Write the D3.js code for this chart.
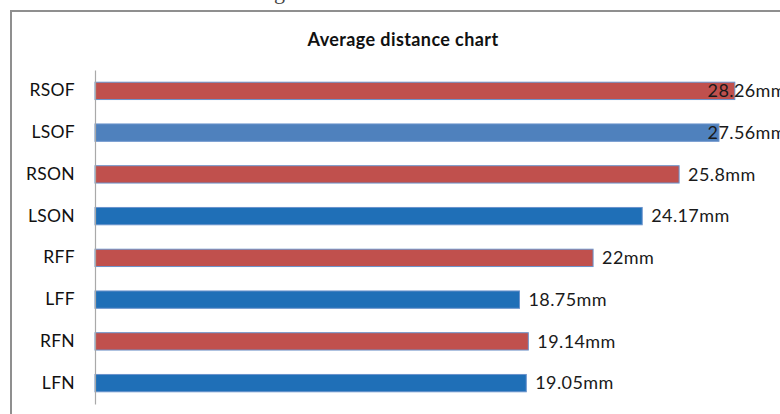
<!DOCTYPE html>
<html>
<head>
<meta charset="utf-8">
<script src="https://cdn.jsdelivr.net/npm/d3@7"></script>
<style>
  html, body { margin: 0; padding: 0; background: #fff; }
  svg { display: block; }
</style>
</head>
<body>
<svg id="chart" width="780" height="414"></svg>
<script>
// Average distance per measurement, top to bottom
const categories = ["RSOF", "LSOF", "RSON", "LSON", "RFF", "LFF", "RFN", "LFN"];
const distances = [28.26, 27.56, 25.8, 24.17, 22, 18.75, 19.14, 19.05];
const valueLabels = ["28.26mm", "27.56mm", "25.8mm", "24.17mm", "22mm", "18.75mm", "19.14mm", "19.05mm"];
const side = ["R", "L", "R", "L", "R", "L", "R", "L"];
const chartTitle = "Average distance chart";

const svg = d3.select("#chart");
const font = "Lato, 'Open Sans', sans-serif";

// outer chart frame (runs off the right and bottom edges)
svg.append("path")
  .attr("d", "M11,420 V11 H790")
  .attr("fill", "none")
  .attr("stroke", "#8f8f8f")
  .attr("stroke-width", 2);

// descender of the heading above the frame
svg.append("text")
  .attr("x", 274).attr("y", -1.5)
  .attr("font-family", "'Liberation Serif', serif")
  .attr("font-size", 22)
  .attr("fill", "#444")
  .text("g");

svg.append("text")
  .attr("x", 403).attr("y", 46)
  .attr("text-anchor", "middle")
  .attr("font-family", font)
  .attr("font-weight", "bold")
  .attr("font-size", 18)
  .attr("letter-spacing", 0.4)
  .attr("fill", "#111")
  .text(chartTitle);

const x = d3.scaleLinear().domain([0, 30]).range([95, 95 + 30 * 22.64]);
const y = d3.scaleBand().domain(categories).range([70, 404])
  .paddingInner(0.585).paddingOuter(0.2925);

const data = categories.map((c, i) => ({ c, v: distances[i], label: valueLabels[i], side: side[i] }));

const fillFor = d => d.side === "R" ? "#C0504D" : (d.c === "LSOF" ? "#4F81BD" : "#1F6FB7");

svg.append("g").selectAll("rect").data(data).join("rect")
  .attr("x", x(0))
  .attr("y", d => y(d.c))
  .attr("width", d => x(d.v) - x(0))
  .attr("height", y.bandwidth())
  .attr("fill", fillFor)
  .attr("stroke", "#6A93CC")
  .attr("stroke-width", 1);

// category axis
const axis = svg.append("g")
  .attr("transform", `translate(${x(0)},0)`)
  .call(d3.axisLeft(y).tickSize(0).tickPadding(20));
axis.select(".domain").attr("stroke", "#a9a9a9").attr("stroke-width", 1.2);
axis.selectAll("text")
  .attr("font-family", font)
  .attr("font-size", 17.5)
  .attr("letter-spacing", 0.3)
  .attr("fill", "#111");

// value labels, kept inside the plot area's right edge
const rightEdge = 786;
svg.append("g").selectAll("text").data(data).join("text")
  .attr("y", d => y(d.c) + y.bandwidth() / 2)
  .attr("dy", "0.35em")
  .attr("font-family", font)
  .attr("font-size", 18)
  .attr("letter-spacing", 0.4)
  .attr("fill", "#1a1a1a")
  .text(d => d.label)
  .attr("x", function (d) {
    const w = this.getComputedTextLength();
    return Math.min(x(d.v) + 9, rightEdge - w);
  });
</script>
</body>
</html>
